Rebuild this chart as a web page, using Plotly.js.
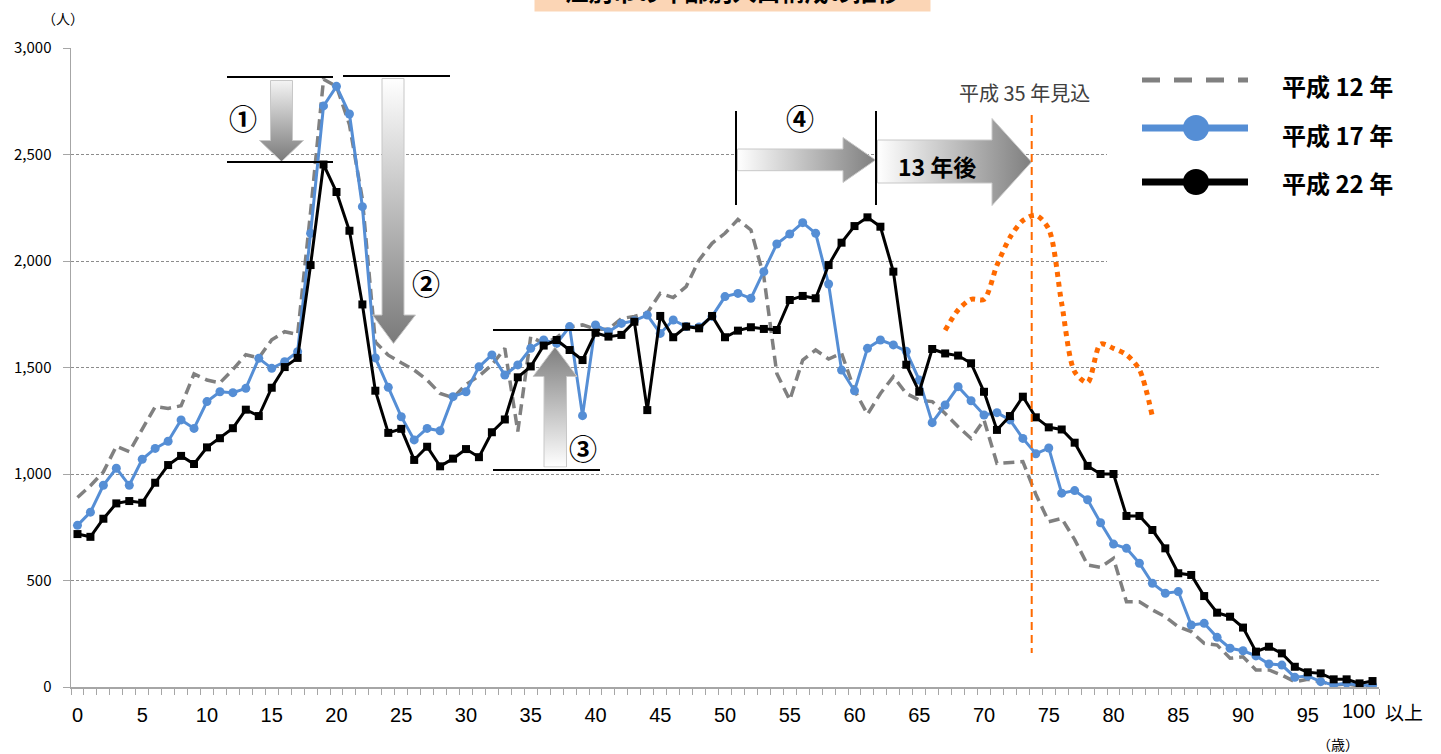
<!DOCTYPE html>
<html><head><meta charset="utf-8">
<script src="https://cdn.plot.ly/plotly-3.0.1.min.js"></script>
<style>html,body{margin:0;padding:0;background:#fff;}#chart{width:1441px;height:754px;}</style>
</head><body><div id="chart"></div>
<script>
// ---- data (ages 0..100, "100" = 100歳以上) ----
const ages = [0,1,2,3,4,5,6,7,8,9,10,11,12,13,14,15,16,17,18,19,20,21,22,23,24,25,26,27,28,29,30,31,32,33,34,35,36,37,38,39,40,41,42,43,44,45,46,47,48,49,50,51,52,53,54,55,56,57,58,59,60,61,62,63,64,65,66,67,68,69,70,71,72,73,74,75,76,77,78,79,80,81,82,83,84,85,86,87,88,89,90,91,92,93,94,95,96,97,98,99,100];
const h12 = [890,945,1010,1130,1105,1210,1316,1308,1320,1470,1441,1428,1490,1560,1545,1630,1668,1655,2230,2853,2820,2640,2290,1620,1558,1522,1488,1441,1378,1358,1420,1460,1512,1590,1200,1645,1612,1640,1690,1700,1680,1680,1730,1740,1756,1848,1828,1880,2005,2083,2130,2195,2146,1926,1472,1347,1535,1582,1540,1567,1394,1280,1378,1457,1378,1347,1340,1284,1222,1167,1254,1050,1052,1058,905,776,791,692,573,562,604,400,400,362,330,283,260,205,197,135,142,80,80,56,25,36,25,9,14,5,5];
const h17 = [759,821,947,1027,947,1069,1120,1154,1254,1214,1340,1386,1382,1402,1543,1496,1527,1574,2130,2728,2820,2690,2255,1545,1407,1269,1160,1214,1203,1363,1386,1503,1559,1465,1512,1590,1629,1613,1692,1274,1700,1668,1707,1720,1746,1660,1723,1692,1690,1740,1833,1848,1825,1950,2080,2127,2180,2130,1892,1488,1391,1590,1629,1606,1576,1441,1241,1324,1410,1344,1277,1288,1254,1167,1095,1122,910,922,879,771,671,651,581,487,440,448,291,299,233,182,170,146,108,103,46,52,25,10,18,8,8];
const h22 = [718,705,790,862,873,865,959,1042,1085,1047,1125,1168,1215,1302,1272,1405,1502,1545,1981,2453,2324,2142,1796,1391,1193,1212,1066,1128,1036,1072,1117,1079,1196,1256,1454,1505,1603,1629,1582,1535,1663,1645,1653,1715,1300,1742,1642,1692,1684,1742,1642,1673,1689,1681,1676,1817,1836,1825,1981,2086,2164,2205,2161,1950,1513,1386,1587,1566,1556,1520,1386,1207,1272,1363,1266,1219,1209,1147,1038,1000,1000,803,803,737,651,534,526,427,349,330,279,166,189,158,95,69,64,36,36,17,28];
const h35Ages = [67,68,69,70,71,72,73,74,75,76,77,78,79,80,81,82,83];
const h35 = [1675,1770,1820,1820,1980,2110,2190,2215,2150,1800,1480,1430,1610,1590,1560,1490,1270];
const tickVals = [0,5,10,15,20,25,30,35,40,45,50,55,60,65,70,75,80,85,90,95,100];
const tickText = ['0','5','10','15','20','25','30','35','40','45','50','55','60','65','70','75','80','85','90','95',''];
const lastTickText = '100';
const seriesNames = ['平成 12 年','平成 17 年','平成 22 年'];
const titleText = '江別市の年齢別人口構成の推移';

// ---- geometry helpers ----
const W=1441,H=754,L=71,R=62,T=48,B=67;
const PW=W-L-R, PH=H-T-B;
const px = x => (x-L)/PW;
const py = y => (H-B-y)/PH;
const CJK = '"Noto Sans CJK JP", "Noto Sans", sans-serif';
const LAT = '"Liberation Sans", Arial, sans-serif';
const GRAY='#808080', BLUE='#558ED5', ORANGE='#FF6A00';

function arrowImg(x0,y0,x1,y1,pts,grad,c0,c1){
  const w=x1-x0,h=y1-y0;
  const g = grad==='v' ? 'x1="0" y1="0" x2="0" y2="1"' : 'x1="0" y1="0" x2="1" y2="0"';
  const svg = `<svg xmlns="http://www.w3.org/2000/svg" width="${w}" height="${h}" viewBox="0 0 ${w} ${h}" preserveAspectRatio="none"><defs><linearGradient id="g" ${g}><stop offset="0" stop-color="${c0}"/><stop offset="1" stop-color="${c1}"/></linearGradient></defs><polygon points="${pts}" fill="url(#g)" stroke="#c8c8c8" stroke-width="1"/></svg>`;
  return {source:'data:image/svg+xml;charset=utf-8,'+encodeURIComponent(svg), xref:'paper', yref:'paper',
    x:px(x0), y:py(y0), sizex:w/PW, sizey:h/PH, xanchor:'left', yanchor:'top', sizing:'stretch', layer:'above'};
}
const images = [
  arrowImg(259,80,304,162,'11.5,0.5 33.5,0.5 33.5,60.5 44.5,60.5 22.5,81.5 0.5,60.5 11.5,60.5','v','#f4f4f4','#7a7a7a'),
  arrowImg(372,78,416,344,'10,0.5 32,0.5 32,237 43.5,237 21.5,265.5 0.5,237 10,237','v','#ffffff','#7a7a7a'),
  arrowImg(532.5,346.5,577.5,467.5,'22.5,0.5 44.5,30 34,30 34,120.5 11.5,120.5 11.5,30 0.5,30','v','#7f7f7f','#ffffff'),
  arrowImg(737,137,876,183,'0.5,12 106,12 106,0.5 138.5,23 106,45.5 106,33.7 0.5,33.7','h','#ffffff','#7f7f7f'),
  arrowImg(877,118,1032,206,'0.5,22 115,22 115,0.5 154.5,44 115,87.5 115,65 0.5,65','h','#ffffff','#7f7f7f')
];

function hline(x0,x1,y,color,width,dash){return {type:'line',xref:'paper',yref:'paper',x0:px(x0),x1:px(x1),y0:py(y),y1:py(y),line:{color:color||'#000',width:width||2,dash:dash||'solid'},layer:'above'};}
function vline(x,y0,y1,color,width,dash){return {type:'line',xref:'paper',yref:'paper',x0:px(x),x1:px(x),y0:py(y0),y1:py(y1),line:{color:color||'#000',width:width||2,dash:dash||'solid'},layer:'above'};}
function circ(cx,cy,r,color){return {type:'circle',xref:'paper',yref:'paper',x0:px(cx-r),x1:px(cx+r),y0:py(cy+r),y1:py(cy-r),fillcolor:color,line:{width:0},layer:'above'};}

const shapes = [
  {type:'rect',xref:'paper',yref:'paper',x0:px(1107),x1:px(1441),y0:py(290),y1:py(55),fillcolor:'#ffffff',line:{width:0},layer:'above'},
  hline(227,333,77), hline(227,333,162), hline(343,450,76),
  hline(493,600,330), hline(493,600,470),
  vline(736,111,205), vline(876,111,205),
  vline(1031.7,115,653,ORANGE,2,'8px,5px'),
  hline(1142,1248,80,GRAY,5,'18px,14px'),
  hline(1142,1248,128,BLUE,7), circ(1196,128,13,BLUE),
  hline(1142,1248,182,'#000',7), circ(1196,182,13,'#000')
];

function ann(text,x,y,size,opts){return Object.assign({text:text,xref:'paper',yref:'paper',x:px(x),y:py(y),xanchor:'center',yanchor:'middle',showarrow:false,font:{family:CJK,size:size,color:'#000'}},opts||{});}
const annotations = [
  ann('<b>'+titleText+'</b>',732.5,11.7,24,{yanchor:'bottom',bgcolor:'#FBD5B5',width:389,borderpad:3}),
  ann('<b>①</b>',243,118,28), ann('<b>②</b>',426,283,28), ann('<b>③</b>',583,448,28), ann('<b>④</b>',800,118,28),
  ann('<b>13 年後</b>',937,166,23),
  ann('平成\u00A035\u00A0年見込',1024,92,20,{font:{family:CJK,size:20,color:'#404040'}}),
  ann('（人）',63,18,14), ann('（歳）',1338,744,14),
  ann(lastTickText,1358.5,711,20,{font:{family:LAT,size:20,color:'#000'}}),
  ann('以上',1404,711,19),
  ann('<b>'+seriesNames[0]+'</b>',1280,86,24,{xanchor:'left'}),
  ann('<b>'+seriesNames[1]+'</b>',1280,134,24,{xanchor:'left'}),
  ann('<b>'+seriesNames[2]+'</b>',1280,182,24,{xanchor:'left'})
];

const traces = [
  {x:ages,y:h12,name:seriesNames[0],type:'scatter',mode:'lines',line:{color:GRAY,width:3.5,dash:'11px,6px'}},
  {x:ages,y:h17,name:seriesNames[1],type:'scatter',mode:'lines+markers',line:{color:BLUE,width:3},marker:{symbol:'circle',size:9,color:BLUE}},
  {x:ages,y:h22,name:seriesNames[2],type:'scatter',mode:'lines+markers',line:{color:'#000',width:3},marker:{symbol:'square',size:8,color:'#000'}},
  {x:h35Ages,y:h35,name:'平成35年見込',type:'scatter',mode:'lines',line:{color:ORANGE,width:5,dash:'dot',shape:'spline',smoothing:0.8}}
];

const layout = {
  width:W,height:H,margin:{l:L,r:R,t:T,b:B},
  paper_bgcolor:'#fff',plot_bgcolor:'#fff',showlegend:false,
  xaxis:{range:[-0.5,100.5],tickvals:tickVals,ticktext:tickText,showgrid:false,zeroline:false,
    showline:true,linecolor:'#a6a6a6',linewidth:1.5,ticks:'outside',ticklen:8,tickcolor:'rgba(0,0,0,0)',
    ticklabelstandoff:1,tickfont:{family:LAT,size:20,color:'#000'},
    minor:{tick0:-0.5,dtick:1,ticks:'outside',ticklen:6,tickcolor:'#a6a6a6',showgrid:false}},
  yaxis:{range:[0,3000],dtick:500,tickformat:',d',showgrid:true,gridcolor:'#8c8c8c',gridwidth:1,griddash:'3px,2px',
    zeroline:false,showline:true,linecolor:'#a6a6a6',linewidth:1.5,ticks:'outside',ticklen:7,tickcolor:'#a6a6a6',
    ticklabelstandoff:8,tickfont:{family:CJK,size:15,color:'#000'}},
  shapes:shapes,annotations:annotations,images:images
};
Plotly.newPlot('chart',traces,layout,{staticPlot:true});
</script></body></html>
